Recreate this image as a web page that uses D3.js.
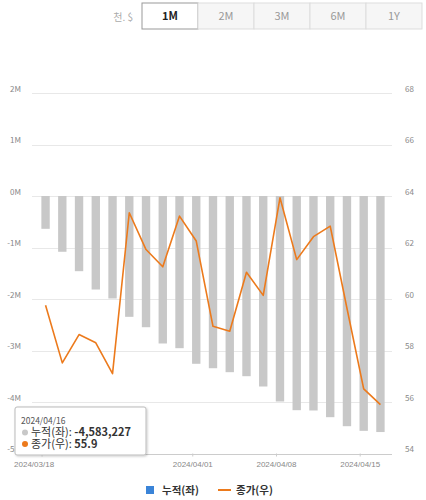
<!DOCTYPE html>
<html>
<head>
<meta charset="utf-8">
<script src="https://cdn.jsdelivr.net/npm/d3@7"></script>
<style>
  body { margin: 0; background: #fff; }
  svg { display: block; font-family: "Noto Sans CJK KR", "Noto Sans", sans-serif; }
</style>
</head>
<body>
<svg id="chart"></svg>
<script>
// data
var dates = ["2024/03/18","2024/03/19","2024/03/20","2024/03/21","2024/03/22",
             "2024/03/25","2024/03/26","2024/03/27","2024/03/28",
             "2024/04/01","2024/04/02","2024/04/03","2024/04/04","2024/04/05",
             "2024/04/08","2024/04/09","2024/04/10","2024/04/11","2024/04/12",
             "2024/04/15","2024/04/16"];
var cumulative = [-637000, -1083000, -1460000, -1816000, -1990000,
                  -2346000, -2548000, -2864000, -2955000,
                  -3258000, -3344000, -3421000, -3499000, -3699000,
                  -3990000, -4159000, -4165000, -4295000, -4470000,
                  -4560000, -4583227];
var closePrice = [59.76, 57.52, 58.62, 58.3, 57.1,
                  63.35, 61.92, 61.25, 63.22,
                  62.25, 58.94, 58.75, 61.04, 60.14,
                  63.93, 61.53, 62.42, 62.83, 59.64,
                  56.51, 55.9];
var leftTicks = [2e6, 1e6, 0, -1e6, -2e6, -3e6, -4e6, -5e6];
var leftTickLabels = ["2M", "1M", "0M", "-1M", "-2M", "-3M", "-4M", "-5M"];
var rightTicks = [68, 66, 64, 62, 60, 58, 56, 54];
var xTickDates = ["2024/03/18", "2024/04/01", "2024/04/08", "2024/04/15"];
var periods = ["1M", "2M", "3M", "6M", "1Y"];

var width = 426, height = 500;
var svg = d3.select("#chart").attr("width", width).attr("height", height);

var x = d3.scaleBand().domain(dates).range([33, 393]).padding(0.5);
var yL = d3.scaleLinear().domain([-5e6, 2e6]).range([453.5, 93]);
var yR = d3.scaleLinear().domain([54, 68]).range([453.5, 93]);

// period buttons
svg.append("text").attr("x", 133).attr("y", 17).attr("dy", "0.35em")
   .attr("text-anchor", "end").attr("font-size", 10).attr("fill", "#aaa").text("천. $");
var btn = svg.selectAll("g.btn").data(periods).enter().append("g")
   .attr("transform", function(d, i) { return "translate(" + (142 + i * 56) + ",3)"; });
btn.append("rect").attr("width", 56).attr("height", 26)
   .attr("fill", function(d, i) { return i == 0 ? "#fff" : "#f6f6f6"; })
   .attr("stroke", function(d, i) { return i == 0 ? "#999" : "#ddd"; });
btn.append("text").attr("x", 28).attr("y", 13).attr("dy", "0.35em")
   .attr("text-anchor", "middle").attr("font-size", 11)
   .attr("font-weight", function(d, i) { return i == 0 ? "bold" : "normal"; })
   .attr("fill", function(d, i) { return i == 0 ? "#222" : "#999"; })
   .text(function(d) { return d; });

// grid
svg.append("g").selectAll("line").data(leftTicks).enter().append("line")
   .attr("x1", 32).attr("x2", 392)
   .attr("y1", function(d) { return Math.round(yL(d)) + 0.5; })
   .attr("y2", function(d) { return Math.round(yL(d)) + 0.5; })
   .attr("stroke", function(d) { return d == -5e6 ? "#ccc" : "#e8e8e8"; });

// left axis labels
svg.append("g").selectAll("text").data(leftTicks).enter().append("text")
   .attr("x", 21).attr("y", function(d) { return yL(d) - 4; })
   .attr("dy", "0.35em").attr("text-anchor", "end")
   .attr("font-size", 8).attr("fill", "#888")
   .text(function(d, i) { return leftTickLabels[i]; });

// right axis labels
svg.append("g").selectAll("text").data(rightTicks).enter().append("text")
   .attr("x", 405).attr("y", function(d) { return yR(d) - 4; })
   .attr("dy", "0.35em").attr("font-size", 8).attr("fill", "#888")
   .text(function(d) { return d; });

// bars
svg.append("g").selectAll("rect").data(cumulative).enter().append("rect")
   .attr("x", function(d, i) { return x(dates[i]); })
   .attr("y", yL(0))
   .attr("width", x.bandwidth())
   .attr("height", function(d) { return yL(d) - yL(0); })
   .attr("fill", "#c8c8c8");

// line
var line = d3.line()
   .x(function(d, i) { return x(dates[i]) + x.bandwidth() / 2; })
   .y(function(d) { return yR(d); });
svg.append("path").datum(closePrice)
   .attr("d", line).attr("fill", "none")
   .attr("stroke", "#ec7a1c").attr("stroke-width", 1.6)
   .attr("stroke-linejoin", "round");

// x axis
var xAxis = d3.axisBottom(x).tickValues(xTickDates).tickSize(3).tickSizeOuter(0);
var gx = svg.append("g").attr("transform", "translate(-3.5,453.5)").call(xAxis);
gx.select(".domain").remove();
gx.selectAll(".tick line").attr("stroke", "#ccc");
gx.selectAll(".tick text").attr("font-size", 8).attr("fill", "#888")
   .attr("font-family", "inherit").attr("dy", "0.9em")
   .attr("dx", function(d, i) { return i == 0 ? -8 : 0; });

// tooltip
var defs = svg.append("defs");
var f = defs.append("filter").attr("id", "shadow").attr("x", "-10%").attr("y", "-10%")
   .attr("width", "130%").attr("height", "140%");
f.append("feDropShadow").attr("dx", 1).attr("dy", 1).attr("stdDeviation", 1.2)
   .attr("flood-color", "#000").attr("flood-opacity", 0.2);
var last = dates.length - 1;
var tip = svg.append("g").attr("transform", "translate(15,407)");
tip.append("rect").attr("width", 131).attr("height", 48).attr("rx", 2)
   .attr("fill", "#fff").attr("stroke", "#bbb").attr("filter", "url(#shadow)");
tip.append("text").attr("x", 6).attr("y", 14).attr("dy", "0.35em")
   .attr("font-size", 8.5).attr("fill", "#555").text(dates[last]);
var rows = [
  { color: "#c8c8c8", label: "누적(좌): ", value: d3.format(",")(cumulative[last]).replace("−", "-") },
  { color: "#ec7a1c", label: "종가(우): ", value: closePrice[last] }
];
var tr = tip.selectAll("g.row").data(rows).enter().append("g")
   .attr("transform", function(d, i) { return "translate(0," + (25.5 + i * 11.5) + ")"; });
tr.append("circle").attr("cx", 10).attr("cy", 0).attr("r", 3)
   .attr("fill", function(d) { return d.color; });
var tt = tr.append("text").attr("x", 16).attr("dy", "0.35em").attr("font-size", 11).attr("fill", "#333");
tt.append("tspan").text(function(d) { return d.label; });
tt.append("tspan").attr("font-weight", "bold").text(function(d) { return d.value; });

// legend
var lg = svg.append("g").attr("transform", "translate(0,490)");
lg.append("rect").attr("x", 146).attr("y", -4).attr("width", 8).attr("height", 8).attr("fill", "#3a84d8");
lg.append("text").attr("x", 162).attr("dy", "0.35em").attr("font-size", 10.5)
   .attr("font-weight", "bold").attr("fill", "#333").text("누적(좌)");
lg.append("line").attr("x1", 218).attr("x2", 231).attr("stroke", "#ec7a1c").attr("stroke-width", 2);
lg.append("text").attr("x", 236).attr("dy", "0.35em").attr("font-size", 10.5)
   .attr("font-weight", "bold").attr("fill", "#333").text("종가(우)");
</script>
</body>
</html>
